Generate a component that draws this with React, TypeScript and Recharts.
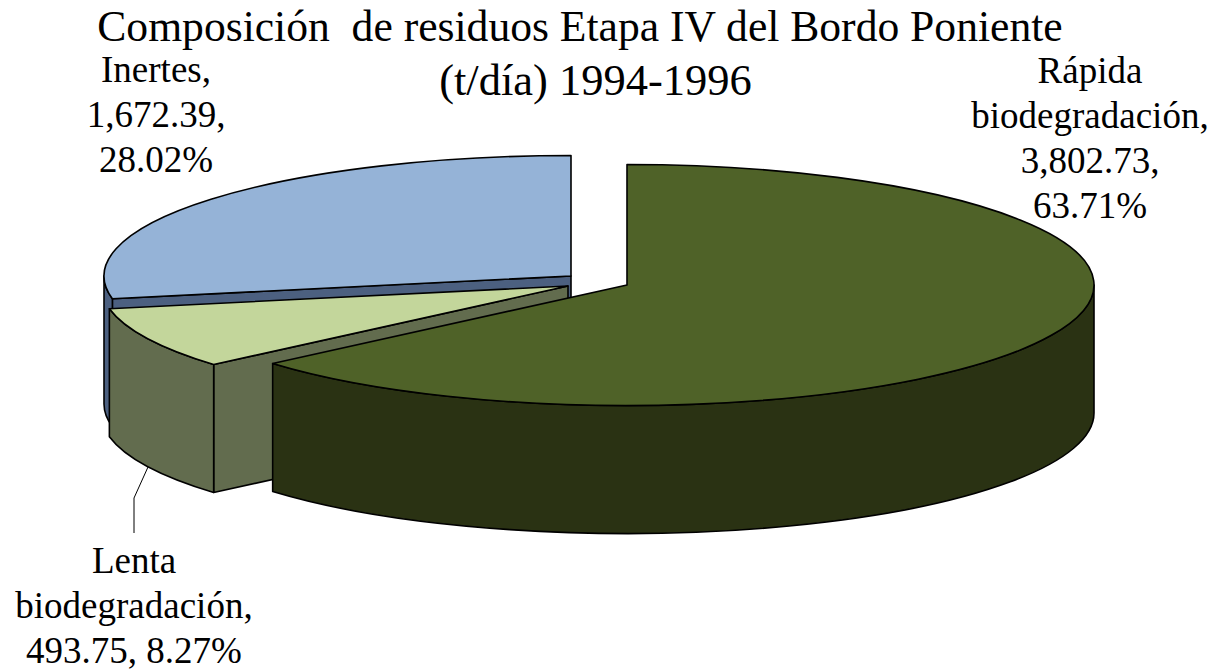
import React from "react";
import { PieChart, Pie } from "recharts";

const WIDTH = 1218;
const HEIGHT = 671;
const FONT = '"Liberation Serif", "Times New Roman", serif';

// drawn back to front, counter-clockwise from 12 o'clock, so the nearest slice paints last
const categories = ["Inertes", "Lenta biodegradación", "Rápida biodegradación"];
const values = [1672.39, 493.75, 3802.73];
const titleLines = ["Composición  de residuos Etapa IV del Bordo Poniente", "(t/día) 1994-1996"];

const data = categories.map((name, i) => ({ name, value: values[i] }));

const CX = 600;
const CY = 280;
const RADIUS = 467;
const SQUASH = 120.5 / 467;
const DEPTH = 128;
const RAD = Math.PI / 180;

type SliceStyle = { dx: number; dy: number; top: string; wall: string; face: string };

const STYLES: Record<string, SliceStyle> = {
  Inertes: { dx: -29, dy: -4, top: "#95b3d7", wall: "#4c6080", face: "#4c6080" },
  "Lenta biodegradación": { dx: -32, dy: 6, top: "#c3d69b", wall: "#626c4e", face: "#626c4e" },
  "Rápida biodegradación": { dx: 27, dy: 5, top: "#4f6228", wall: "#2a3213", face: "#2a3213" },
};

type LabelPos = { x: number; y: number; oneLineValue?: boolean };

const LABELS: Record<string, LabelPos> = {
  Inertes: { x: 156, y: 82 },
  "Lenta biodegradación": { x: 134, y: 573 , oneLineValue: true },
  "Rápida biodegradación": { x: 1090, y: 83 },
};

const SliceShape = (props: any) => {
  const { startAngle, endAngle, cx, cy, outerRadius, name } = props;
  const style = STYLES[name];
  const ox = cx + style.dx;
  const oy = cy + style.dy;
  const rx = outerRadius;
  const ry = outerRadius * SQUASH;
  const px = (deg: number) => ox + rx * Math.cos(deg * RAD);
  const py = (deg: number) => oy - ry * Math.sin(deg * RAD);
  const large = endAngle - startAngle > 180 ? 1 : 0;

  const topPath =
    `M${ox},${oy} L${px(startAngle)},${py(startAngle)} ` +
    `A${rx},${ry} 0 ${large} 0 ${px(endAngle)},${py(endAngle)} Z`;

  const radialFace = (deg: number) =>
    `M${ox},${oy} L${px(deg)},${py(deg)} L${px(deg)},${py(deg) + DEPTH} L${ox},${oy + DEPTH} Z`;

  // the outer wall only shows for the part of the rim facing the viewer (180 to 360)
  const wallFrom = Math.max(startAngle, 180);
  const wallTo = Math.min(endAngle, 360);
  const wallLarge = wallTo - wallFrom > 180 ? 1 : 0;
  const wallPath =
    `M${px(wallFrom)},${py(wallFrom)} A${rx},${ry} 0 ${wallLarge} 0 ${px(wallTo)},${py(wallTo)} ` +
    `L${px(wallTo)},${py(wallTo) + DEPTH} ` +
    `A${rx},${ry} 0 ${wallLarge} 1 ${px(wallFrom)},${py(wallFrom) + DEPTH} Z`;

  const line = { stroke: "#000", strokeWidth: 1.6, strokeLinejoin: "round" as const };

  return (
    <g>
      {Math.cos(startAngle * RAD) > 0.001 && <path d={radialFace(startAngle)} fill={style.face} {...line} />}
      {Math.cos(endAngle * RAD) < -0.001 && <path d={radialFace(endAngle)} fill={style.face} {...line} />}
      {wallTo > wallFrom && <path d={wallPath} fill={style.wall} {...line} />}
      <path d={topPath} fill={style.top} {...line} />
    </g>
  );
};

const money = (v: number) =>
  v.toLocaleString("en-US", { minimumFractionDigits: 2, maximumFractionDigits: 2 });

const SliceLabel = (props: any) => {
  const { name, value, percent } = props;
  const pos = LABELS[name];
  const [first, second] = String(name).split(" ");
  const pct = `${(percent * 100).toFixed(2)}%`;
  const lines = second ? [first, `${second},`] : [`${first},`];
  if (pos.oneLineValue) lines.push(`${money(value)}, ${pct}`);
  else lines.push(`${money(value)},`, pct);

  return (
    <g>
      {pos.oneLineValue && (
        <polyline points="148,467 134,498 134,533" fill="none" stroke="#000" strokeWidth={1} />
      )}
      <text x={pos.x} y={pos.y} textAnchor="middle" fontFamily={FONT} fontSize={37} fill="#000">
        {lines.map((l, i) => (
          <tspan key={i} x={pos.x} dy={i === 0 ? 0 : 45}>
            {l}
          </tspan>
        ))}
      </text>
    </g>
  );
};

export default function App() {
  return (
    <div style={{ position: "absolute", left: 0, top: 0, width: WIDTH, height: HEIGHT, background: "#fff" }}>
      <PieChart width={WIDTH} height={HEIGHT} margin={{ top: 0, right: 0, bottom: 0, left: 0 }}>
        <Pie
          data={data}
          dataKey="value"
          nameKey="name"
          cx={CX}
          cy={CY}
          innerRadius={0}
          outerRadius={RADIUS}
          startAngle={90}
          endAngle={450}
          stroke="none"
          shape={SliceShape}
          label={SliceLabel}
          labelLine={false}
          isAnimationActive={false}
        />
        <text
          x={580}
          y={41}
          textAnchor="middle"
          fontFamily={FONT}
          fontSize={43.6}
          fill="#000"
          style={{ whiteSpace: "pre" }}
        >
          {titleLines[0]}
        </text>
        <text x={595.5} y={95} textAnchor="middle" fontFamily={FONT} fontSize={44.5} fill="#000">
          {titleLines[1]}
        </text>
      </PieChart>
    </div>
  );
}
